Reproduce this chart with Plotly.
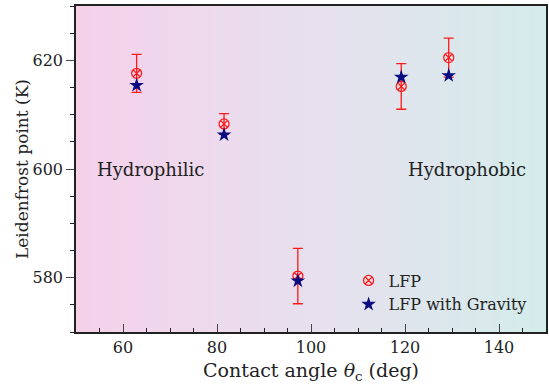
import plotly.graph_objects as go

# Data
angle = [62.9, 81.5, 97.2, 119.2, 129.3]
lfp = [617.6, 608.3, 580.3, 615.2, 620.5]
lfp_err = [3.5, 1.9, 5.1, 4.2, 3.6]
lfp_gravity = [615.4, 606.3, 579.4, 616.9, 617.2]
x_ticks = [60, 80, 100, 120, 140]
y_ticks = [580, 600, 620]

FONT = "DejaVu Serif"

fig = go.Figure()

fig.add_trace(go.Scatter(
    x=angle, y=lfp, mode="markers", name="LFP",
    marker=dict(symbol="circle-x-open", color="#ff1a1a", size=10, line=dict(width=1.3, color="#ff1a1a")),
    error_y=dict(type="data", array=lfp_err, visible=True, color="#ff1a1a", thickness=1.3, width=5),
))
fig.add_trace(go.Scatter(
    x=angle, y=lfp_gravity, mode="markers", name="LFP with Gravity",
    marker=dict(symbol="star", color="#0a0a80", size=11, line=dict(width=0)),
))

# background gradient
def lerp(a, b, t):
    return tuple(round(a[i] + (b[i] - a[i]) * t) for i in range(3))

stops = [(0.0, (246, 206, 232)), (0.04, (244, 210, 235)), (0.5, (231, 224, 238)), (1.0, (212, 236, 235))]
N = 80
shapes = []
for k in range(N):
    t = (k + 0.5) / N
    for j in range(len(stops) - 1):
        if stops[j][0] <= t <= stops[j + 1][0]:
            tt = (t - stops[j][0]) / (stops[j + 1][0] - stops[j][0])
            c = lerp(stops[j][1], stops[j + 1][1], tt)
            break
    shapes.append(dict(type="rect", xref="x domain", yref="y domain",
                       x0=k / N, x1=(k + 1) / N + 0.002, y0=0, y1=1,
                       fillcolor="rgb(%d,%d,%d)" % c, line=dict(width=0), layer="below"))

fig.update_layout(
    width=549, height=387,
    margin=dict(l=76, r=1, t=6, b=55),
    paper_bgcolor="white",
    plot_bgcolor="rgb(231,224,238)",
    shapes=shapes,
    font=dict(family=FONT, size=14, color="#222"),
    showlegend=True,
    legend=dict(x=0.58, y=0.21, xanchor="left", yanchor="top",
                bgcolor="rgba(0,0,0,0)", font=dict(size=16, family=FONT),
                itemwidth=30, tracegroupgap=0),
    annotations=[
        dict(x=65.8, y=600, text="Hydrophilic", showarrow=False, xref="x", yref="y",
             font=dict(size=18, family=FONT, color="#222")),
        dict(x=133.1, y=600, text="Hydrophobic", showarrow=False, xref="x", yref="y",
             font=dict(size=18, family=FONT, color="#222")),
    ],
)

fig.update_xaxes(
    range=[50, 150], tickvals=x_ticks, ticks="inside", ticklen=8, tickwidth=1.2,
    showline=True, linecolor="#222", linewidth=1.5, mirror=True, showgrid=False, zeroline=False,
    minor=dict(ticks="inside", ticklen=4, dtick=5, tick0=0, tickcolor="#222", showgrid=False),
    tickfont=dict(size=16, family=FONT),
    title=dict(text="Contact angle <i>θ</i><sub>c</sub> (deg)", font=dict(size=19, family=FONT), standoff=8),
)
fig.update_yaxes(
    range=[570, 630], tickvals=y_ticks, ticks="outside", ticklen=8, tickwidth=1.2,
    showline=True, linecolor="#222", linewidth=1.5, mirror=True, showgrid=False, zeroline=False,
    minor=dict(ticks="outside", ticklen=4, dtick=5, tick0=0, tickcolor="#222", showgrid=False),
    tickfont=dict(size=16, family=FONT),
    title=dict(text="Leidenfrost point (K)", font=dict(size=17, family=FONT), standoff=0),
)

fig.write_html("out.html")
